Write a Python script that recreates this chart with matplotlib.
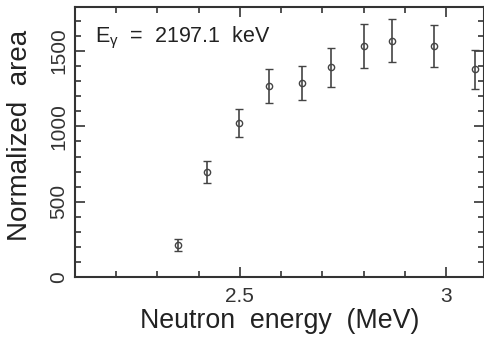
import matplotlib
matplotlib.use("Agg")
import matplotlib.pyplot as plt
from matplotlib.ticker import MultipleLocator

energy = [2.350, 2.421, 2.499, 2.571, 2.650, 2.720, 2.801, 2.870, 2.971, 3.071]
area = [212, 695, 1020, 1268, 1286, 1392, 1532, 1569, 1532, 1379]
err = [38, 73, 93, 112, 113, 127, 147, 143, 140, 128]

plt.rcParams['font.family'] = ['Liberation Sans', 'DejaVu Sans']

fig = plt.figure(figsize=(4.85, 3.39), dpi=100)
ax = fig.add_axes([75/485, 62/339, 409.5/485, 270/339])

col = '#333333'
ax.errorbar(energy, area, yerr=err, fmt='o', ms=4.5, mfc='none', mec='#444444',
            mew=1.0, ecolor='#444444', elinewidth=1.2, capsize=3, capthick=1.2)

ax.set_xlim(2.1, 3.0934)
ax.set_ylim(0, 1793)
ax.xaxis.set_major_locator(MultipleLocator(0.5))
ax.xaxis.set_minor_locator(MultipleLocator(0.1))
ax.yaxis.set_major_locator(MultipleLocator(500))
ax.yaxis.set_minor_locator(MultipleLocator(100))
ax.set_xticks([2.5, 3.0])
ax.set_xticklabels(['2.5', '3'])
ax.tick_params(which='both', direction='in', top=True, right=True, colors=col,
               labelsize=15, width=1.2)
ax.tick_params(which='major', length=7)
ax.tick_params(which='minor', length=4)
ax.tick_params(axis='x', pad=7)
ax.tick_params(axis='y', pad=5)
for lab in ax.get_yticklabels():
    lab.set_rotation(90)
    lab.set_va('center')
for sp in ax.spines.values():
    sp.set_color(col)
    sp.set_linewidth(1.5)

ax.set_xlabel('Neutron  energy  (MeV)', fontsize=19.3, color='#222222', labelpad=2)
ax.set_ylabel('Normalized  area', fontsize=20, color='#222222')
ax.yaxis.set_label_coords(-0.103, 0.524)
ax.text(0.05, 0.935, r'E$_\mathregular{γ}$  =  2197.1  keV', transform=ax.transAxes,
        fontsize=15.5, color='#222222', va='top', ha='left')

fig.savefig('out.png', dpi=100)
